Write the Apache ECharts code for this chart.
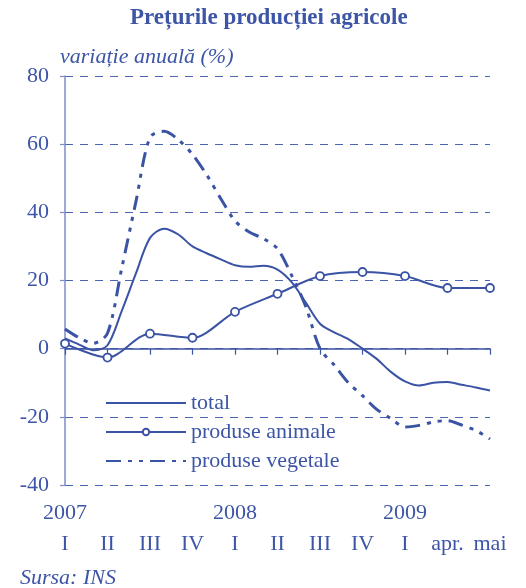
<!DOCTYPE html>
<html>
<head>
<meta charset="utf-8">
<script src="https://cdn.jsdelivr.net/npm/echarts@6/dist/echarts.min.js"></script>
<style>
  html, body { margin: 0; padding: 0; background: #ffffff; }
  #chart { width: 526px; height: 588px; }
</style>
</head>
<body>
<div id="chart"></div>
<script>
// Prețurile producției agricole - variație anuală (%)
const quarterLabels = ['I', 'II', 'III', 'IV', 'I', 'II', 'III', 'IV', 'I', 'apr.', 'mai'];
const yearLabels = ['2007', '', '', '', '2008', '', '', '', '2009', '', ''];

// one value per quarter label (marked series)
const animalValues = [1.5, -2.6, 4.4, 3.2, 10.8, 16.1, 21.3, 22.5, 21.3, 17.8, 17.8];

// three readings per quarter step
const totalValues = [
    3.0, 1.2, -0.5, 1.0, 11.0, 22.0, 32.5, 35.2, 33.5, 30.0, 28.0,
    26.2, 24.5, 24.0, 24.3, 23.2, 19.5, 13.5, 7.3, 4.8, 2.8,
    0.0, -3.0, -6.8, -9.6, -10.8, -10.0, -9.8, -10.6, -11.4, -12.3
];
const vegetalValues = [
    5.8, 3.2, 1.6, 4.5, 23.5, 43.0, 62.0, 63.8, 61.3, 57.0, 51.0,
    44.0, 37.5, 34.2, 32.3, 29.3, 21.5, 12.3, 0.0, -4.8, -10.0,
    -13.8, -17.8, -20.5, -23.0, -22.5, -21.5, -21.1, -22.4, -24.0, -26.5
];

const seriesNames = ['total', 'produse animale', 'produse vegetale'];

const blue = '#3a53a4';
const textBlue = '#3d55a6';
const font = "'Liberation Serif', 'Times New Roman', serif";

// category slots: each quarter step split in three
const categories = [];
quarterLabels.forEach((q, i) => {
    categories.push(q);
    if (i < quarterLabels.length - 1) categories.push('', '');
});

const animalData = categories.map((c, idx) => (idx % 3 === 0 ? animalValues[idx / 3] : null));

const chart = echarts.init(document.getElementById('chart'));

const option = {
    backgroundColor: '#ffffff',
    animation: false,
    title: [
        {
            text: 'Prețurile producției agricole',
            left: 130,
            top: 7,
            padding: 0,
            textStyle: { fontFamily: font, fontSize: 23, fontWeight: 'bold', color: textBlue }
        },
        {
            text: 'variație anuală (%)',
            left: 60,
            top: 46,
            padding: 0,
            textStyle: { fontFamily: font, fontSize: 22, fontStyle: 'italic', fontWeight: 'normal', color: textBlue }
        },
        {
            text: 'Sursa: INS',
            left: 20,
            top: 567,
            padding: 0,
            textStyle: { fontFamily: font, fontSize: 22, fontStyle: 'italic', fontWeight: 'normal', color: textBlue }
        }
    ],
    legend: {
        data: [
            { name: seriesNames[0], itemStyle: { opacity: 0 } },
            { name: seriesNames[1] },
            { name: seriesNames[2], itemStyle: { opacity: 0 } }
        ],
        orient: 'vertical',
        left: 105,
        top: 391,
        padding: 0,
        itemWidth: 80,
        itemHeight: 8,
        itemGap: 5,
        textStyle: { fontFamily: font, fontSize: 22, color: textBlue, lineHeight: 24 }
    },
    grid: {
        left: 65,
        right: 36,
        top: 76,
        bottom: 103
    },
    xAxis: [
        {
            type: 'category',
            data: categories,
            boundaryGap: false,
            position: 'bottom',
            axisLine: { show: false, onZero: false },
            axisTick: { show: false },
            splitLine: { show: false },
            axisLabel: {
                interval: 2,
                margin: 13,
                formatter: (value, index) => {
                    if (index % 3 !== 0) return '';
                    const year = yearLabels[index / 3] || '\u00a0';
                    return '{y|' + year + '}\n{q|' + value + '}';
                },
                rich: {
                    y: { fontFamily: font, fontSize: 22, color: textBlue, lineHeight: 31 },
                    q: { fontFamily: font, fontSize: 22, color: textBlue, lineHeight: 31 }
                }
            }
        },
        {
            type: 'category',
            data: categories,
            boundaryGap: false,
            position: 'bottom',
            axisLine: { show: true, onZero: true, lineStyle: { color: blue, width: 1.5 } },
            axisTick: { show: true, interval: 2, length: 6, lineStyle: { color: blue, width: 1.2 } },
            axisLabel: { show: false },
            splitLine: { show: false }
        }
    ],
    yAxis: {
        type: 'value',
        min: -40,
        max: 80,
        interval: 20,
        axisLine: { show: true, lineStyle: { color: '#7d8ec8', width: 1.5 } },
        axisTick: { show: true, length: 5, lineStyle: { color: '#7d8ec8', width: 1.2 } },
        axisLabel: { fontFamily: font, fontSize: 22, color: textBlue, margin: 16 },
        splitLine: { show: true, lineStyle: { color: '#4a63b3', width: 1, type: [8, 7] } }
    },
    series: [
        {
            name: 'total',
            type: 'line',
            xAxisIndex: 0,
            data: totalValues,
            smooth: 0.3,
            symbol: 'none',
            lineStyle: { color: blue, width: 2 },
            itemStyle: { color: blue }
        },
        {
            name: 'produse animale',
            type: 'line',
            xAxisIndex: 0,
            data: animalData,
            connectNulls: true,
            smooth: 0.3,
            symbol: 'circle',
            symbolSize: 8,
            showSymbol: true,
            lineStyle: { color: blue, width: 2 },
            itemStyle: { color: '#ffffff', borderColor: blue, borderWidth: 1.8 }
        },
        {
            name: 'produse vegetale',
            type: 'line',
            xAxisIndex: 0,
            data: vegetalValues,
            smooth: 0.3,
            symbol: 'none',
            lineStyle: { color: blue, width: 3, type: [15, 7, 4, 7, 4, 7] },
            itemStyle: { color: blue }
        }
    ]
};

chart.setOption(option);
window.addEventListener('resize', () => chart.resize());
</script>
</body>
</html>
